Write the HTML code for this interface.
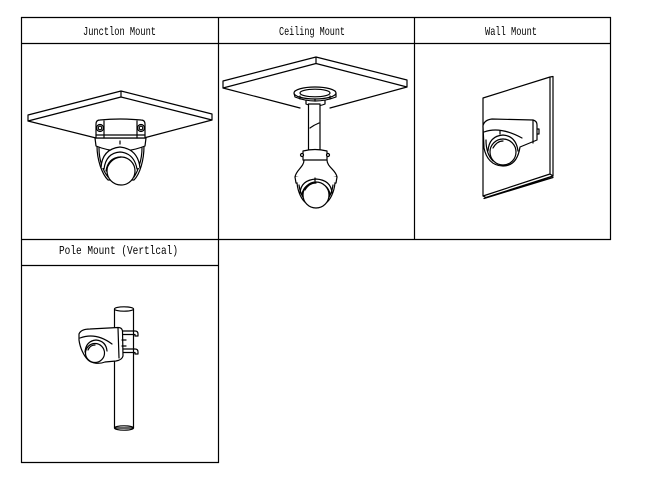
<!DOCTYPE html>
<html><head><meta charset="utf-8"><style>
html,body{margin:0;padding:0;background:#fff;width:652px;height:483px;overflow:hidden}
svg{display:block}
text{font-family:"Liberation Mono","DejaVu Sans Mono",monospace;font-size:12px;fill:#000}
</style></head><body>
<svg width="652" height="483" viewBox="0 0 652 483" xmlns="http://www.w3.org/2000/svg">
<rect x="0" y="0" width="652" height="483" fill="#fff"/>
<!-- table grid -->
<g stroke="#000" stroke-width="1.2" fill="none">
  <path d="M21 17.5 H611 M21 43.5 H611 M21 239.5 H611 M21 265.5 H219 M21 462.5 H219"/>
  <path d="M21.5 17 V463 M218.5 17 V463 M414.5 17 V240 M610.5 17 V240"/>
</g>
<!-- headers -->
<text x="83" y="35" textLength="73" lengthAdjust="spacingAndGlyphs">Junctlon Mount</text>
<text x="279" y="35" textLength="66" lengthAdjust="spacingAndGlyphs">Ceiling Mount</text>
<text x="485" y="35" textLength="52" lengthAdjust="spacingAndGlyphs">Wall  Mount</text>
<text x="59" y="254" textLength="119" lengthAdjust="spacingAndGlyphs">Pole Mount (Vertlcal)</text>

<g stroke="#000" stroke-width="1.2" fill="none" stroke-linejoin="round" stroke-linecap="round">
<!-- ===== Junction Mount ===== -->
<path d="M28 121 L28 115 L121 91 L212 114 L212 120 M121 91 L121 97 M28 121 L121 97 L212 120 M28 121 L100 139 M212 120 L140 139"/>
<path d="M97 146 C97 160 102 174 108 180 L134 180 C140 174 144 160 144 146 Z" fill="#fff"/>
<path d="M99 148 C99 160 103 171 108 177 M142 148 C142 160 138 171 134 177"/>
<path d="M95 138 L96 146 Q120 156 145 146 L146 138 Z" fill="#fff"/>
<path d="M96 138 L96 124 Q96 120 100 120 Q120 118 141 120 Q145 120 145 124 L145 138 Z" fill="#fff"/>
<path d="M104 121 L104 138 M137 121 L137 138 M120 141 L120 144 M96 135 L145 135"/>
<circle cx="100" cy="128" r="3.5" fill="#fff"/>
<circle cx="100" cy="128" r="1.8"/>
<circle cx="141" cy="128" r="3.5" fill="#fff"/>
<circle cx="141" cy="128" r="1.8"/>
<path d="M101 168 Q102 149 120 147 Q138 149 140 168" fill="#fff"/>
<path d="M104 169 Q106 153 120 152 Q134 153 137 169"/>
<path d="M106 171 Q108 158 120 157 Q132 158 135 171"/>
<circle cx="121" cy="171" r="14" fill="#fff"/>
<path d="M108 166 Q112 158 121 157"/>

<!-- ===== Ceiling Mount ===== -->
<path d="M223 88 L223 81 L316 57 L407 80 L407 87 M316 57 L316 63.5 M223 88 L316 63.5 L407 87 M223 88 L300 108 M407 87 L330 108"/>
<path d="M306 97 L306 104 Q315.5 108 325 104 L325 97 Z" fill="#fff"/>
<path d="M294 93 L295 97 Q315 105 336 97 L336 93 Z" fill="#fff"/>
<ellipse cx="315" cy="93" rx="21" ry="6" fill="#fff"/>
<ellipse cx="315" cy="93" rx="15" ry="3.8"/>
<path d="M300 96 L300 99 M330 96 L330 99 M315 99 L315 101"/>
<rect x="308.5" y="104" width="11.5" height="46" fill="#fff"/>
<path d="M310 128 Q314 125 319 123"/>
<path d="M303 151 L303 160 Q315 163 327 160 L327 151 Q315 148 303 151 Z" fill="#fff"/>
<circle cx="302" cy="155" r="1.5" fill="#fff"/>
<circle cx="328" cy="155" r="1.5" fill="#fff"/>
<path d="M304 160 C304 167 296 170 295 177 Q316 181 337 177 C336 170 327 167 327 160 Z" fill="#fff"/>
<path d="M295 177 L296 183 Q316 189 336 183 L337 177" fill="#fff"/>
<path d="M297 183 C298 193 302 200 306 203 L326 203 C330 200 334 193 335 183" fill="#fff"/>
<path d="M299 185 C300 193 303 198 306 201 M333 185 C332 193 329 198 326 201"/>
<path d="M315 178 L315 181"/>
<path d="M300 193 Q301 180 316 179 Q331 180 332 193"/>
<path d="M302 194 Q304 184 316 183 Q328 184 330 194"/>
<circle cx="316" cy="195" r="13" fill="#fff"/>
<path d="M305 190 Q309 183 316 183"/>

<!-- ===== Wall Mount ===== -->
<path d="M483 196 L483 98 L550 77 L553 76.5 L553 176 L486 197.5 L483 196 L550 174 L550 77 M550 174 L553 176 M484 198.5 L553 177.5"/>
<path d="M483 126 Q484 120 492 119 L533 120 Q537 121 537 125 L537 140 L520 147 C518 160 512 166 503 166 C492 166 486 158 484 148 Z" fill="#fff"/>
<path d="M484 132 Q500 126 522 138 M533 120 L533 143 M537 129 L539 129 L539 134 L537 134 M486 140 C486 150 489 157 493 161"/>
<path d="M500 131 L500 134"/>
<path d="M488 151 Q489 136 503 135 Q516 136 518 151"/>
<path d="M490 152 Q492 140 503 139 Q514 140 516 152"/>
<circle cx="503" cy="152" r="13" fill="#fff"/>
<path d="M493 148 Q497 141 503 141"/>

<!-- ===== Pole Mount ===== -->
<rect x="114.5" y="309" width="19" height="119" fill="#fff"/>
<ellipse cx="124" cy="309" rx="9.5" ry="2.2" fill="#fff"/>
<ellipse cx="124" cy="428" rx="9.5" ry="2.2"/>
<path d="M120 331 L135 331 Q138 331 138 334 L138 336 L135 336 L135 334.5 L120 334.5"/>
<path d="M120 349 L135 349 Q138 349 138 352 L138 354 L135 354 L135 352.5 L120 352.5"/>
<path d="M79 334 Q81 329 90 329 L118 327.5 Q122 327.5 122.5 331 L123 356 Q122 360 116 361 L105 362 C100 364 92 364 88 360 C84 356 80 348 79 340 Z" fill="#fff"/>
<path d="M80 338 Q96 332 112 344 M118 328 L119 358 M122 340 L126 340 M122 346 L126 346"/>
<path d="M85 352 Q86 341 96 340 Q106 341 107 351"/>
<circle cx="95" cy="353" r="9.5" fill="#fff"/>
<path d="M88 350 Q90 345 95 345"/>
</g>
</svg>
</body></html>
